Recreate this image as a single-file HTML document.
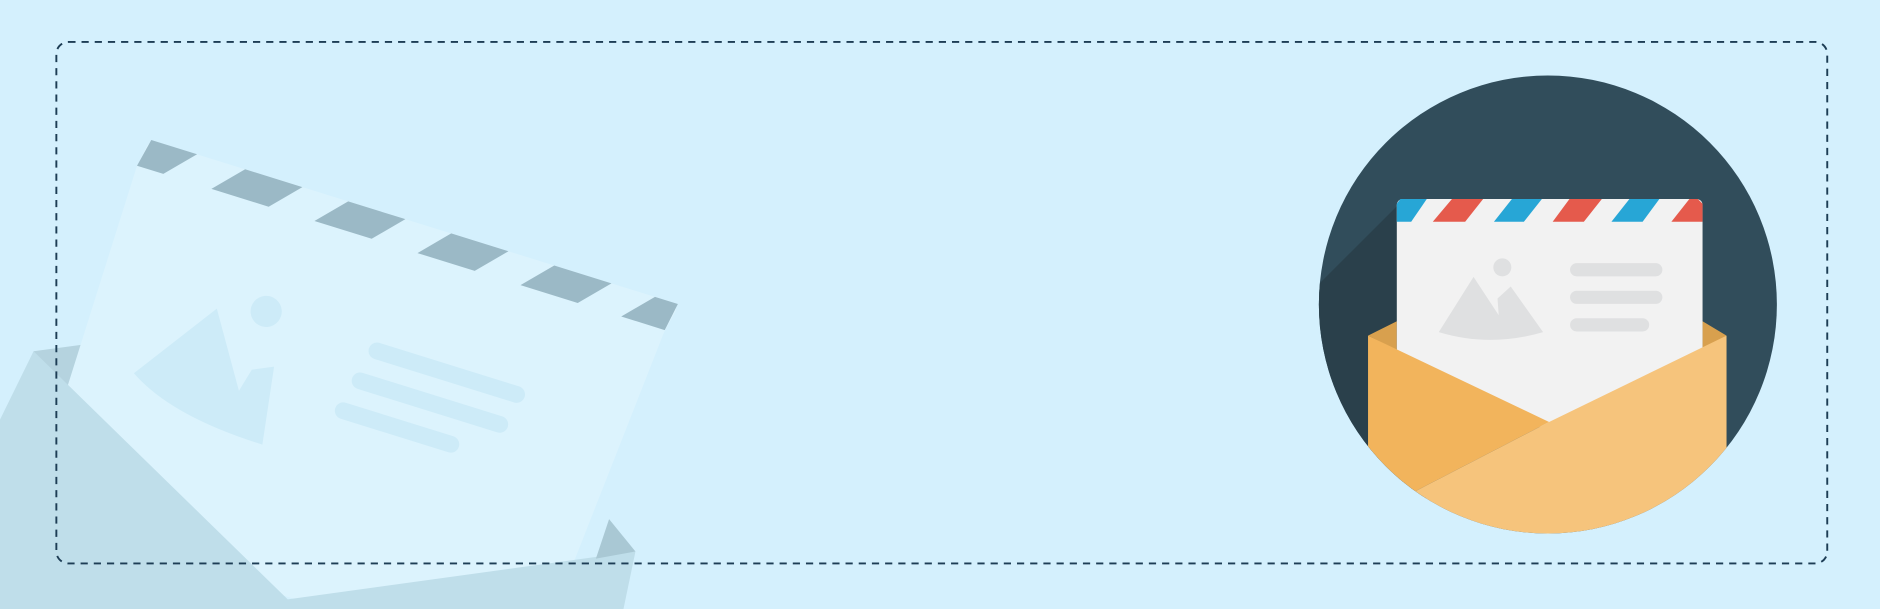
<!DOCTYPE html>
<html><head><meta charset="utf-8"><style>html,body{margin:0;padding:0;background:#d4f0fd;overflow:hidden;width:1880px;height:609px;position:relative}svg{display:block;position:absolute;left:0;top:0}</style></head>
<body>
<svg width="1880" height="609" viewBox="0 0 1568 508" preserveAspectRatio="none">
<defs><clipPath id="cc"><circle cx="1291" cy="254" r="191"/></clipPath><clipPath id="fr"><rect width="1568" height="508"/></clipPath></defs>
<g clip-path="url(#fr)">
<rect width="1568" height="508" fill="#d4f0fd"/>
<g>
<polygon points="0,380 28,293 80,286 130,300 60,410 0,400" fill="#b5d3df"/>
<g transform="translate(130,118) rotate(17.3)">
<path d="M8,0 H450 a6,6 0 0 1 6,6 L452,26 L430,330 L-10,330 L-9,26 L-6,6 a8,8 0 0 1 8,-6z" fill="#dcf3fd"/>
<g fill="#9bb9c6">
<polygon points="-4,0 36,0 14,24 -9,24"/>
<polygon points="78,0 128,0 106,24 56,24"/>
<polygon points="168,0 218,0 196,24 146,24"/>
<polygon points="258,0 308,0 286,24 236,24"/>
<polygon points="348,0 398,0 376,24 326,24"/>
<polygon points="436,0 456,0 452,24 414,24"/>
</g>
<circle cx="130" cy="108" r="13" fill="#cdebf8"/>
<path d="M90,118 L40,190 Q80,215 160,215 L150,150 L133,158 L128,178 Z" fill="#cdebf8"/>
<g stroke="#cdebf8" stroke-width="14" stroke-linecap="round">
<line x1="228" y1="112" x2="350" y2="112"/>
<line x1="222" y1="140" x2="344" y2="140"/>
<line x1="216" y1="168" x2="310" y2="168"/>
</g>
</g>
<polygon points="0,350 28,293 240,500 530,460 520,508 0,508" fill="#bfdeea"/>
<polygon points="497,466 508,433 530,460" fill="#a9c8d4"/>
</g>
<rect x="47" y="35" width="1477" height="435" rx="10" fill="none" stroke="#1d3d55" stroke-width="1.6" stroke-dasharray="6,5"/>
<g>
<circle cx="1291" cy="254" r="191" fill="#314d5b"/>
<g clip-path="url(#cc)">
<polygon points="1165,172 1080,257 1080,470 1200,470 1165,290" fill="#2a404b"/>
<polygon points="1141,280 1165,268 1165,292" fill="#d8a04e"/>
<polygon points="1440,280 1420,268 1420,292" fill="#d8a04e"/>
<rect x="1165" y="166" width="255" height="190" rx="5" fill="#f2f2f2"/>
<g fill="#27a6d6">
<polygon points="1168,166 1190,166 1177,185 1165,185 1165,170"/>
<polygon points="1261,166 1286,166 1271,185 1246,185"/>
<polygon points="1359,166 1384,166 1370,185 1344,185"/>
</g>
<g fill="#e55a4c">
<polygon points="1211,166 1237,166 1222,185 1195,185"/>
<polygon points="1309,166 1336,166 1321,185 1295,185"/>
<polygon points="1409,166 1416,166 1420,170 1420,185 1394,185"/>
</g>
<circle cx="1253" cy="223" r="7.5" fill="#dfe0e1"/>
<path d="M1229,231 L1200,277 Q1243,290 1287,277 L1260,239 L1249,249 L1250,263 Z" fill="#dfe0e1"/>
<g stroke="#dfe0e1" stroke-width="11" stroke-linecap="round">
<line x1="1315" y1="225" x2="1381" y2="225"/>
<line x1="1315" y1="248" x2="1381" y2="248"/>
<line x1="1315" y1="271" x2="1370" y2="271"/>
</g>
<polygon points="1141,280 1292,352 1180,410 1141,410" fill="#f2b45c"/>
<polygon points="1440,280 1440,460 1160,460 1180,410 1292,352" fill="#f6c47c"/>
</g>
</g>
</g>
</svg>
</body></html>
